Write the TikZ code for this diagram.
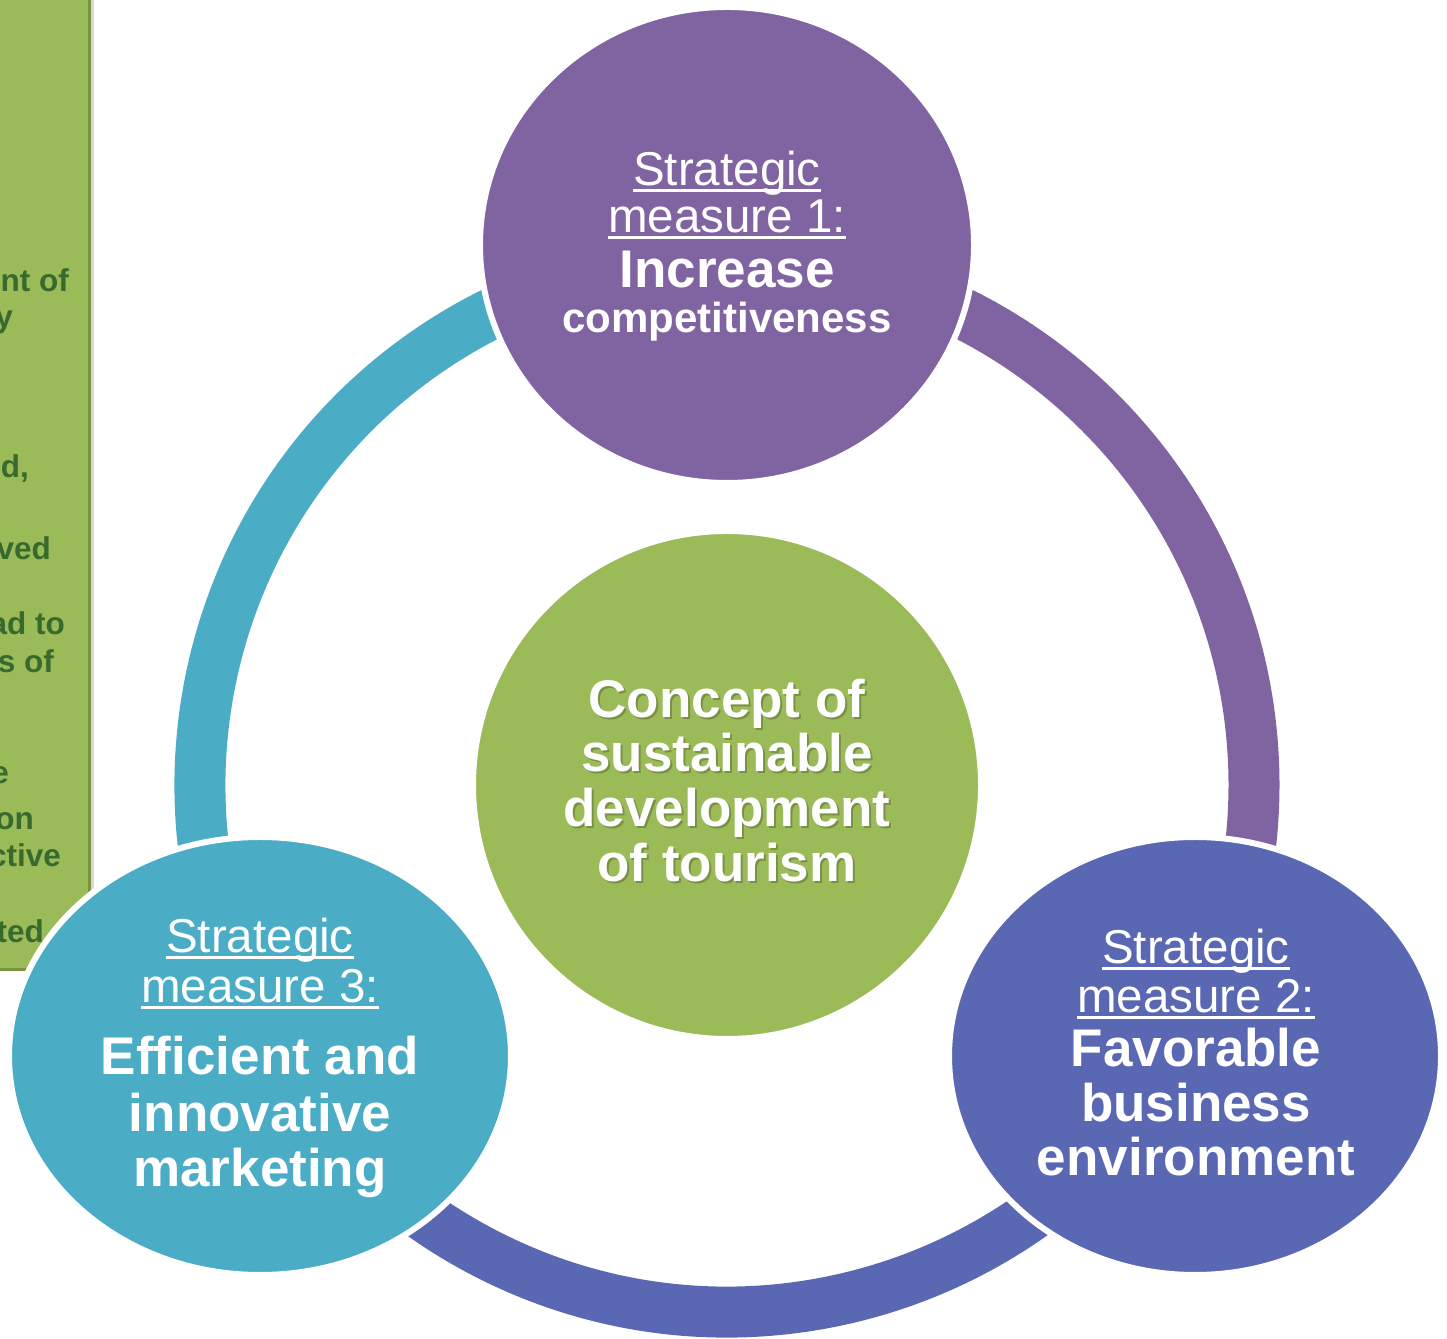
\documentclass[tikz,border=0pt]{standalone}
\usepackage{fontspec}
\setmainfont{Liberation Sans}
\usetikzlibrary{shapes.geometric}
\definecolor{cteal}{HTML}{4BACC6}
\definecolor{cpurple}{HTML}{8064A2}
\definecolor{cblue}{HTML}{5A68B3}
\definecolor{cgreen}{HTML}{9BBB59}
\definecolor{cgreenbd}{HTML}{7A9442}
\definecolor{cdark}{HTML}{386A2D}
\newcommand\myul[1]{\setbox0\hbox{#1}\rlap{\rule[-6pt]{\wd0}{2.6pt}}\box0}
\tikzset{
  bubble/.style={ellipse, draw=white, line width=6pt, inner sep=0pt},
  ringarc/.style={line width=51pt},
  hdr/.style={anchor=base, inner sep=0pt, text=white, font=\fontsize{47.5}{50}\selectfont},
  big/.style={anchor=base, inner sep=0pt, text=white, font=\bfseries\fontsize{53}{56}\selectfont},
  mid/.style={anchor=base, inner sep=0pt, text=white, font=\bfseries\fontsize{42}{46}\selectfont},
  frag/.style={anchor=base east, inner sep=0pt, text=cdark, font=\bfseries\fontsize{31.5}{34}\selectfont},
  shadowtxt/.style={anchor=base, inner sep=0pt, text=black, opacity=0.22, font=\bfseries\fontsize{53}{56}\selectfont}
}
\begin{document}
\begin{tikzpicture}[x=1pt,y=1pt]
\useasboundingbox (0,0) rectangle (1447,1338);
\fill[white] (0,0) rectangle (1447,1338);
% left panel
\fill[black!15] (89,364) rectangle (94,1338);
\fill[cgreen] (0,368) rectangle (89,1338);
\draw[cgreenbd, line width=3pt] (0,368) -- (89,368) -- (89,1338);
\begin{scope}
\clip (0,368) rectangle (88,1338);
\node[frag] (f1) at (69,1046) {nt of};
\node[frag] (f2) at (13,1010) {y};
\node[frag] (f3) at (29,860) {d,};
\node[frag] (f4) at (51,778) {ved};
\node[frag] (f5) at (65,703) {ad to};
\node[frag] (f6) at (54,665) {s of};
\node[frag] (f7) at (9,554) {e};
\node[frag] (f8) at (34,508) {on};
\node[frag] (f9) at (61,471) {ctive};
\node[frag] (f10) at (44,395) {ted};
\end{scope}
% ring
\coordinate (rc) at (727,553);
\draw[ringarc, cteal] (rc) ++(212:527) arc[start angle=212, end angle=88, radius=527];
\draw[ringarc, cpurple] (rc) ++(92:527) arc[start angle=92, end angle=-32, radius=527];
\draw[ringarc, cblue] (rc) ++(-28:527) arc[start angle=-28, end angle=-152, radius=527];
% circles
\node[bubble, fill=cpurple, minimum width=494pt, minimum height=476pt] (m1) at (727,1093) {};
\node[bubble, fill=cteal, minimum width=502pt, minimum height=438pt] (m3) at (260,282) {};
\node[bubble, fill=cblue, minimum width=492pt, minimum height=438pt] (m2) at (1195,282) {};
\node[bubble, fill=cgreen, minimum width=508pt, minimum height=508pt] (core) at (727,553) {};
% measure 1
\node[hdr] (m1a) at (727,1152) {\myul{Strategic}};
\node[hdr] (m1b) at (727,1105) {\myul{measure 1:}};
\node[big] (m1c) at (727,1050) {Increase};
\node[mid] (m1d) at (727,1005) {competitiveness};
% measure 3
\node[hdr] (m3a) at (260,385) {\myul{Strategic}};
\node[hdr] (m3b) at (260,335) {\myul{measure 3:}};
\node[big] (m3c) at (260,263) {Efficient and};
\node[big] (m3d) at (260,206) {innovative};
\node[big] (m3e) at (260,151) {marketing};
% measure 2
\node[hdr] (m2a) at (1196,374) {\myul{Strategic}};
\node[hdr] (m2b) at (1196,325) {\myul{measure 2:}};
\node[big] (m2c) at (1196,271) {Favorable};
\node[big] (m2d) at (1196,216) {business};
\node[big] (m2e) at (1196,162) {environment};
% center
\node[shadowtxt] (s1) at (729,618) {Concept of};
\node[shadowtxt] (s2) at (729,564) {sustainable};
\node[shadowtxt] (s3) at (729,509) {development};
\node[shadowtxt] (s4) at (729,454) {of tourism};
\node[big] (c1) at (727,620) {Concept of};
\node[big] (c2) at (727,566) {sustainable};
\node[big] (c3) at (727,511) {development};
\node[big] (c4) at (727,456) {of tourism};
\end{tikzpicture}
\end{document}
